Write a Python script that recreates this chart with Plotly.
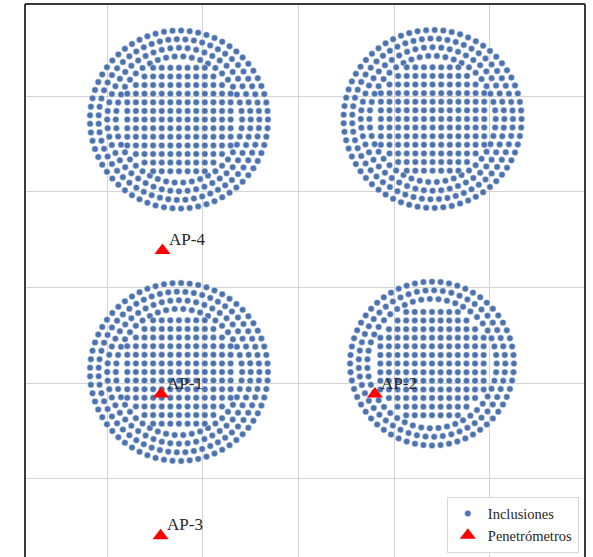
import numpy as np
import plotly.graph_objects as go

# Column-group layouts (plan coordinates, m): centre, ring radii and dots per ring,
# plus a square core grid of given spacing clipped to a radius.
group_names = ["G-4", "G-5", "G-1", "G-2"]
group_cx = [8.76, 22.01, 8.76, 21.98]
group_cy = [23.77, 23.80, 10.58, 11.02]
ring_radii = [
    [4.65, 4.20, 3.75, 3.30],
    [4.65, 4.20, 3.75, 3.30],
    [4.65, 4.20, 3.75, 3.30],
    [4.28, 3.83, 3.38],
]
ring_counts = [
    [65, 59, 52, 46],
    [65, 59, 52, 46],
    [65, 59, 52, 46],
    [60, 53, 47],
]
core_spacing = [0.45, 0.45, 0.45, 0.45]
core_radius = [3.10, 3.10, 3.10, 3.10]

# Penetrometer locations
pen_names = ["AP-1", "AP-2", "AP-3", "AP-4"]
pen_x = [7.82, 19.00, 7.80, 7.90]
pen_y = [9.43, 9.43, 2.03, 16.93]


def group_points(cx, cy, radii, counts, step, rcore):
    xs, ys = [], []
    for r, n in zip(radii, counts):
        ang = np.arange(n) * 2 * np.pi / n
        xs.extend(cx + r * np.cos(ang))
        ys.extend(cy + r * np.sin(ang))
    k = int(rcore // step)
    for i in range(-k, k + 1):
        for j in range(-k, k + 1):
            if np.hypot(i * step, j * step) <= rcore:
                xs.append(cx + i * step)
                ys.append(cy + j * step)
    return xs, ys


inc_x, inc_y = [], []
for g in range(len(group_names)):
    gx, gy = group_points(group_cx[g], group_cy[g], ring_radii[g], ring_counts[g],
                          core_spacing[g], core_radius[g])
    inc_x.extend(gx)
    inc_y.extend(gy)

FONT = "Liberation Serif"

fig = go.Figure()
fig.add_trace(go.Scatter(
    x=inc_x, y=inc_y, mode="markers", name="Inclusiones",
    marker=dict(color="#4c72b0", size=6.5, line=dict(color="white", width=0.5)),
))
fig.add_trace(go.Scatter(
    x=pen_x, y=pen_y, mode="markers", name="Penetrómetros",
    marker=dict(color="#ff0000", symbol="triangle-up", size=14, line=dict(width=0)),
))

for name, x, y in zip(pen_names, pen_x, pen_y):
    fig.add_annotation(x=x, y=y, text=name, showarrow=False,
                       xanchor="left", yanchor="middle", xshift=4, yshift=11,
                       font=dict(family=FONT, size=17, color="#262626"))

# frame on left, top and right
for x0, y0, x1, y1 in [(0, 0, 0, 1), (0, 1, 1, 1), (1, 0, 1, 1)]:
    fig.add_shape(type="line", xref="paper", yref="paper", x0=x0, y0=y0, x1=x1, y1=y1,
                  line=dict(color="#3a3a3a", width=2))

axis_common = dict(showticklabels=False, ticks="", zeroline=False, showline=False,
                   showgrid=True, gridcolor="#d4d4d4", gridwidth=1, tick0=0, dtick=5)
fig.update_xaxes(range=[0.716, 29.974], **axis_common)
fig.update_yaxes(range=[0.915, 29.807], **axis_common)

fig.update_layout(
    width=593, height=557,
    margin=dict(l=25, r=8, t=4, b=0),
    plot_bgcolor="white", paper_bgcolor="white",
    font=dict(family=FONT, color="#262626"),
    legend=dict(x=0.989, y=0.008, xanchor="right", yanchor="bottom",
                bgcolor="rgba(255,255,255,0.9)", bordercolor="#d9d9d9", borderwidth=1,
                font=dict(family=FONT, size=14.5, color="#262626"),
                itemsizing="trace", tracegroupgap=0),
    showlegend=True,
)

fig.write_html("out.html")
